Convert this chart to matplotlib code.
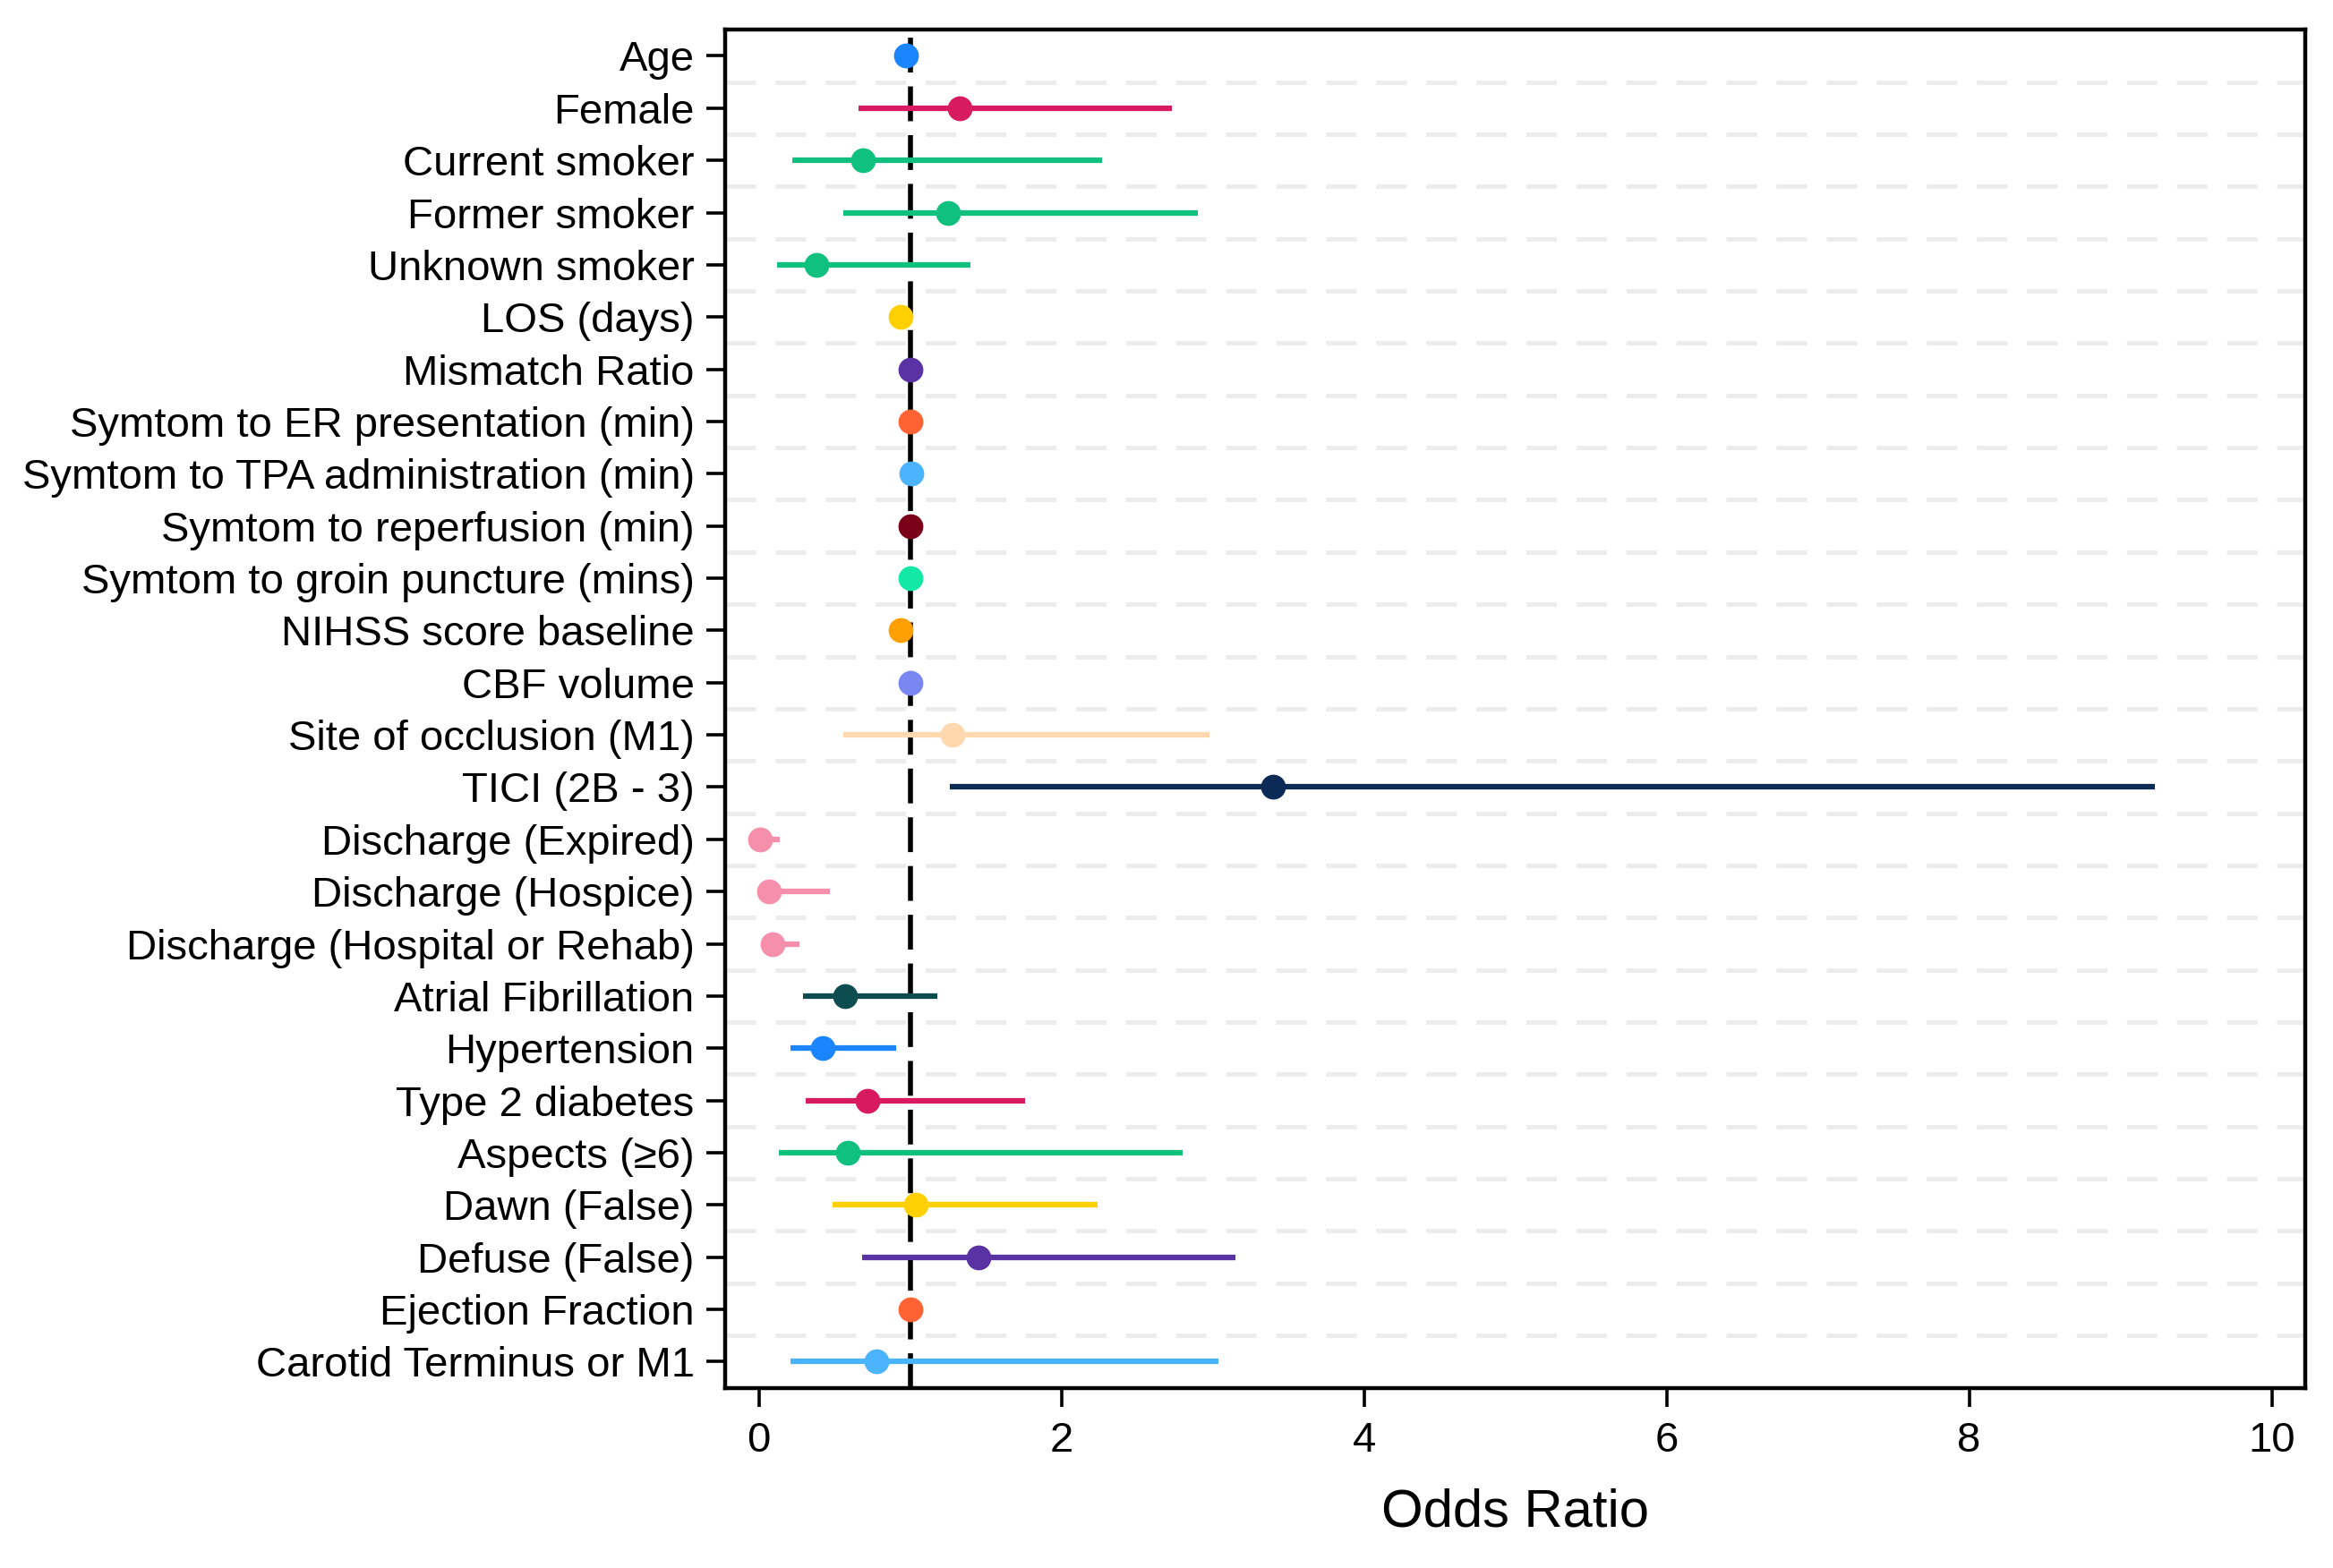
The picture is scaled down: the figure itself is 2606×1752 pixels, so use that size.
import numpy as np
import matplotlib
matplotlib.use("Agg")
import matplotlib.pyplot as plt

plt.rcParams['font.family'] = ['Liberation Sans', 'DejaVu Sans']

labels = ["Age", "Female", "Current smoker", "Former smoker", "Unknown smoker",
          "LOS (days)", "Mismatch Ratio", "Symtom to ER presentation (min)",
          "Symtom to TPA administration (min)", "Symtom to reperfusion (min)",
          "Symtom to groin puncture (mins)", "NIHSS score baseline", "CBF volume",
          "Site of occlusion (M1)", "TICI (2B - 3)", "Discharge (Expired)",
          "Discharge (Hospice)", "Discharge (Hospital or Rehab)", "Atrial Fibrillation",
          "Hypertension", "Type 2 diabetes", "Aspects (\u22656)", "Dawn (False)",
          "Defuse (False)", "Ejection Fraction", "Carotid Terminus or M1"]

odds = [0.97, 1.33, 0.69, 1.25, 0.38, 0.94, 1.00, 1.00, 1.01, 1.00, 1.00, 0.94, 1.00,
        1.28, 3.40, 0.01, 0.07, 0.09, 0.57, 0.42, 0.72, 0.59, 1.04, 1.45, 1.00, 0.78]
lower = [0.96, 0.66, 0.22, 0.56, 0.12, 0.92, 0.99, 0.99, 1.00, 0.99, 0.99, 0.91, 0.99,
         0.56, 1.26, 0.00, 0.02, 0.03, 0.29, 0.21, 0.31, 0.13, 0.49, 0.68, 0.99, 0.21]
upper = [0.98, 2.73, 2.27, 2.90, 1.40, 0.97, 1.01, 1.01, 1.02, 1.01, 1.01, 0.97, 1.01,
         2.98, 9.23, 0.14, 0.47, 0.27, 1.18, 0.91, 1.76, 2.80, 2.24, 3.15, 1.01, 3.04]

colors = ["#1a85ff", "#d81b60", "#10c07f", "#10c07f", "#10c07f", "#ffd000", "#5a32a3",
          "#ff6233", "#4cb3ff", "#7a0019", "#14e8a6", "#ffa000", "#7a87f2", "#ffd8b0",
          "#0b2a55", "#f68fab", "#f68fab", "#f68fab", "#0e4d4f", "#1a85ff", "#d81b60",
          "#10c07f", "#ffd000", "#5a32a3", "#ff6233", "#4cb3ff"]

fig = plt.figure(figsize=(26.06, 17.52), dpi=100)
ax = fig.add_axes([0.311, 0.115, 0.677, 0.866])

y = np.arange(len(labels))
for i in range(len(labels)):
    ax.plot([lower[i], upper[i]], [y[i], y[i]], color=colors[i], lw=4.5,
            solid_capstyle='butt', zorder=3)
    ax.plot(odds[i], y[i], 'o', color=colors[i], ms=20, mec='none', zorder=4)

ax.axvline(1, color='black', lw=4, dashes=(7, 2.8), zorder=2)

ax.set_xlim(-0.22, 10.22)
ax.set_ylim(len(labels) - 0.5, -0.5)
ax.set_yticks(y)
ax.set_yticklabels(labels)
ax.set_yticks(np.arange(0.5, len(labels) - 1), minor=True)
ax.set_xticks(np.arange(0, 11, 2))
ax.grid(which='minor', axis='y', color='#ececec', lw=3.5, dashes=(7, 4.5), zorder=1)
ax.tick_params(which='minor', length=0)
ax.tick_params(which='major', length=15, width=2.6, pad=10)
ax.tick_params(axis='y', labelsize=34)
ax.tick_params(axis='x', labelsize=34, pad=12)

for s in ax.spines.values():
    s.set_linewidth(3.2)

ax.set_xlabel("Odds Ratio", fontsize=43, labelpad=22)

fig.savefig("out.png", dpi=100)
